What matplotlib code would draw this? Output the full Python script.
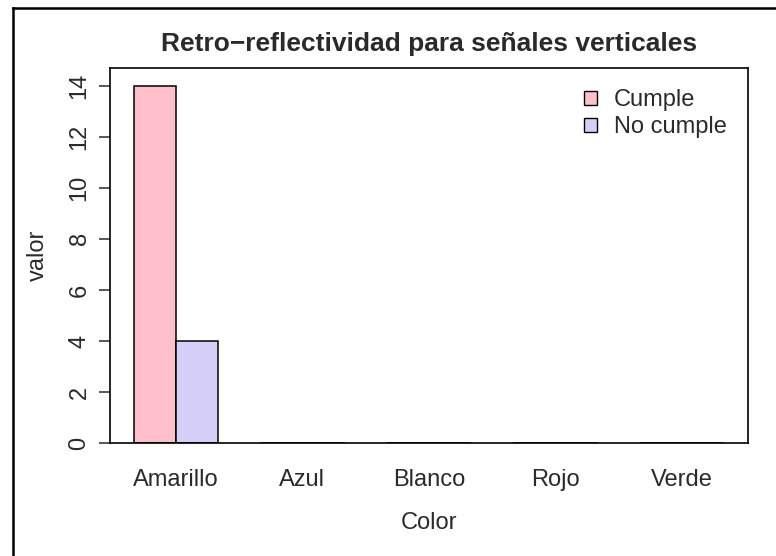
import matplotlib
matplotlib.use("Agg")
import matplotlib.pyplot as plt
from matplotlib.lines import Line2D
from matplotlib.patches import Patch
import numpy as np

plt.rcParams["font.family"] = ["Liberation Sans", "DejaVu Sans"]

colores = ["Amarillo", "Azul", "Blanco", "Rojo", "Verde"]
cumple = [14, 0, 0, 0, 0]
no_cumple = [4, 0, 0, 0, 0]
series = ["Cumple", "No cumple"]
fills = ["#FFC0CB", "#D6D0F8"]
TXT = "#2a2a2a"

fig = plt.figure(figsize=(7.76, 5.56), dpi=100)
ax = fig.add_axes([110 / 776, 1 - 443 / 556, 638 / 776, 375 / 556])

# R-style grouped layout: each group = 1 unit gap + 2 bars of width 1
centers = np.arange(len(colores)) * 3 + 2
ax.bar(centers - 0.5, cumple, width=1, color=fills[0], edgecolor="black", linewidth=1.1)
ax.bar(centers + 0.5, no_cumple, width=1, color=fills[1], edgecolor="black", linewidth=1.1)

ax.set_xlim(0.44, 15.56)
ax.set_ylim(0, 14.7)

ax.set_yticks(np.arange(0, 15, 2))
ax.set_yticklabels([str(v) for v in range(0, 15, 2)], rotation=90, va="center")
ax.tick_params(axis="y", length=8, width=1.1, pad=6, labelsize=17, colors=TXT)
ax.set_xticks(centers)
ax.set_xticklabels(colores)
ax.tick_params(axis="x", length=0, pad=19, labelsize=17, colors=TXT)

for s in ax.spines.values():
    s.set_linewidth(1.2)

ax.set_ylabel("valor", fontsize=17, labelpad=14, color=TXT)
ax.set_xlabel("Color", fontsize=17, labelpad=15, color=TXT)
ax.set_title("Retro\u2212reflectividad para señales verticales", fontsize=19,
             fontweight="bold", pad=12, color=TXT)

handles = [Patch(facecolor=fills[i], edgecolor="black", linewidth=1.0) for i in range(2)]
ax.legend(handles, series, loc="upper right", frameon=False, fontsize=17,
          handlelength=0.55, handleheight=0.55, handletextpad=0.7,
          labelspacing=0.2, borderaxespad=0.5, bbox_to_anchor=(1.0, 1.0),
          labelcolor=TXT)

# outer frame (left and top edges)
fig.add_artist(Line2D([13 / 776, 13 / 776], [0, 1 - 8 / 556], transform=fig.transFigure,
                      color="black", linewidth=1.8))
fig.add_artist(Line2D([13 / 776, 1], [1 - 8 / 556, 1 - 8 / 556], transform=fig.transFigure,
                      color="black", linewidth=1.8))

fig.savefig("out.png", dpi=100, facecolor="white")
